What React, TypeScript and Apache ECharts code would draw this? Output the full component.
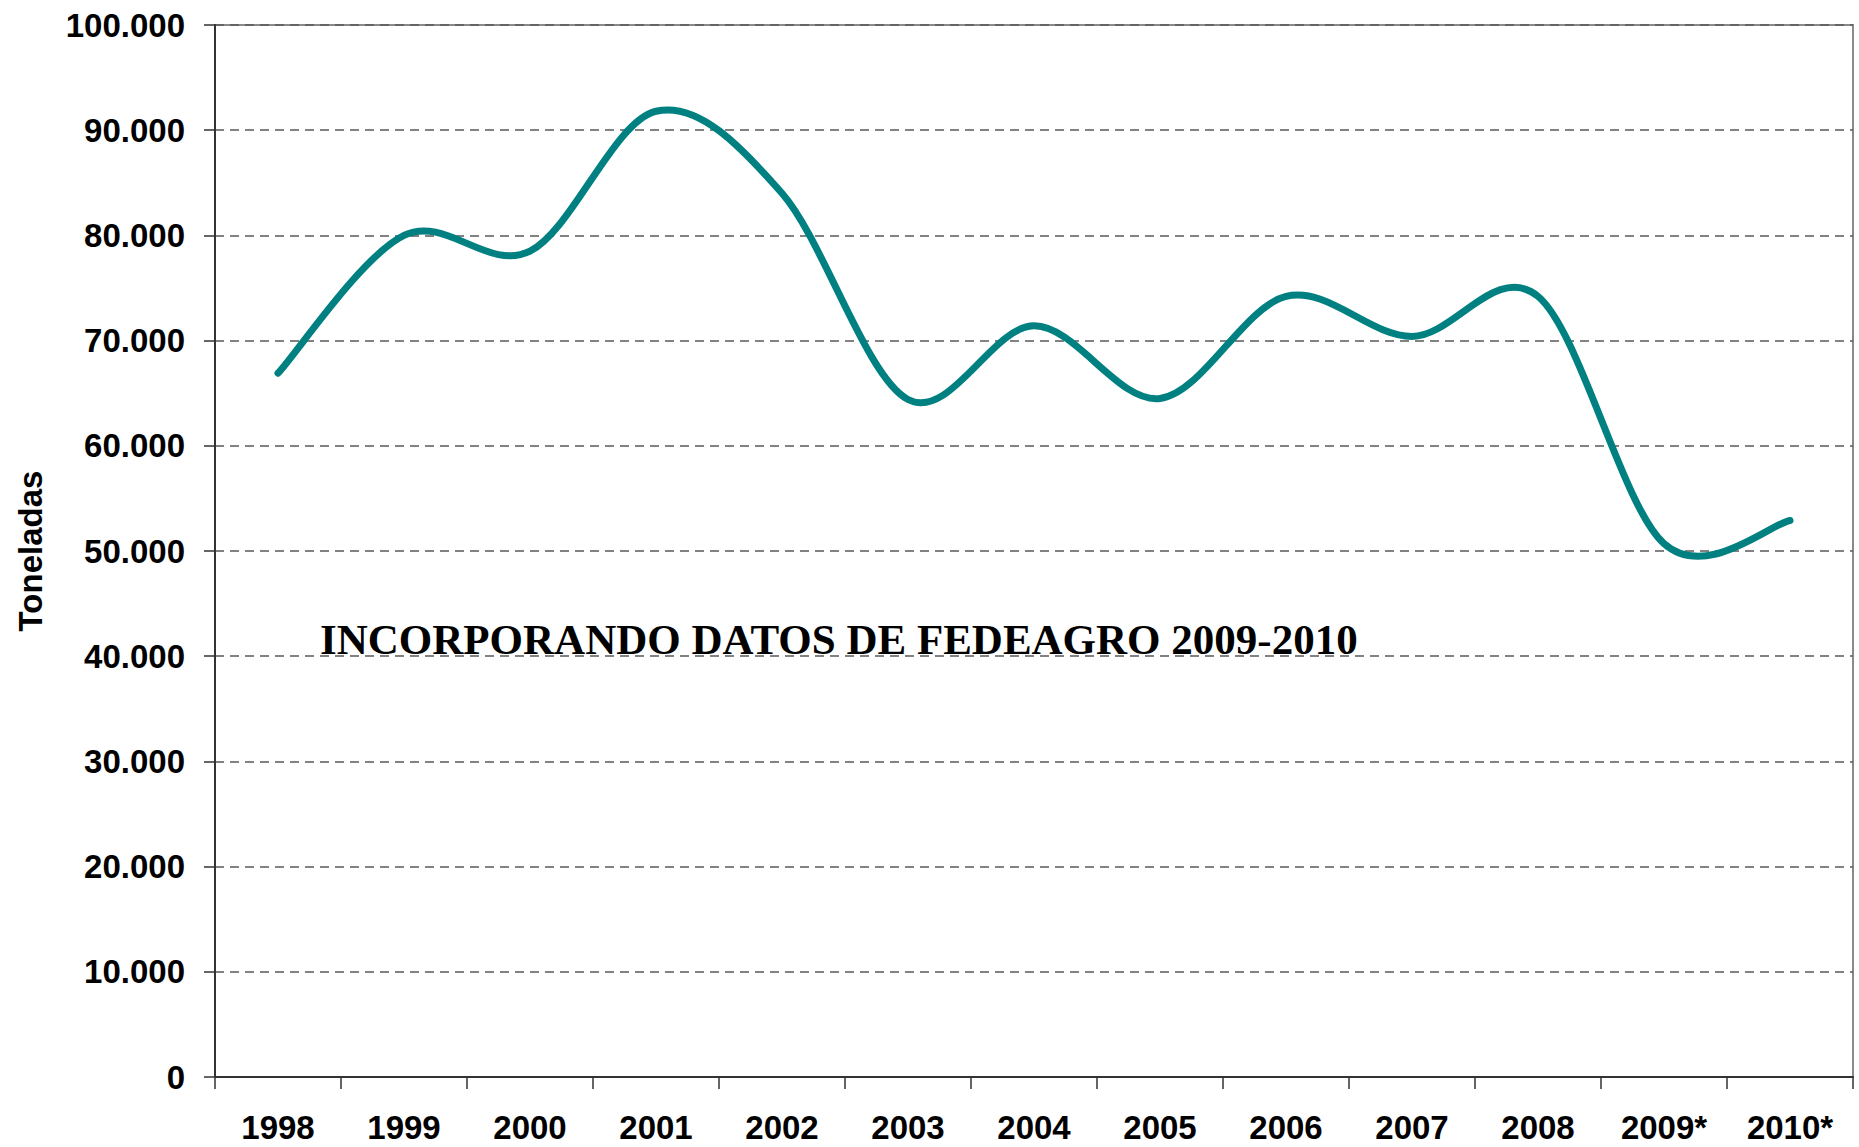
import React, { useEffect, useRef } from "react";
import * as echarts from "echarts";

const categories = ["1998", "1999", "2000", "2001", "2002", "2003", "2004", "2005", "2006", "2007", "2008", "2009*", "2010*"];
const toneladas = [66900, 80000, 78500, 91800, 84000, 64400, 71400, 64500, 74200, 70400, 74200, 50700, 52900];
const yTicks = { min: 0, max: 100000, interval: 10000 };
const yTitle = "Toneladas";
const annotation = "INCORPORANDO DATOS DE FEDEAGRO 2009-2010";

const fmt = (v: number) => String(v).replace(/\B(?=(\d{3})+(?!\d))/g, ".");

// Smooth curve through the data points (Catmull-Rom style, like a spreadsheet "smoothed line"),
// with every point placed through the chart's own axes via api.coord.
function renderSmoothLine(params: any, api: any) {
  if (params.dataIndex !== 0) return null;
  const pts = toneladas.map((v, i) => api.coord([i, v]));
  const n = pts.length;
  let d = `M ${pts[0][0]} ${pts[0][1]}`;
  for (let i = 0; i < n - 1; i++) {
    const p0 = pts[i - 1] || pts[i];
    const p1 = pts[i];
    const p2 = pts[i + 1];
    const p3 = pts[i + 2] || pts[i + 1];
    const c1x = p1[0] + (p2[0] - p0[0]) / 6;
    const c1y = p1[1] + (p2[1] - p0[1]) / 6;
    const c2x = p2[0] - (p3[0] - p1[0]) / 6;
    const c2y = p2[1] - (p3[1] - p1[1]) / 6;
    d += ` C ${c1x} ${c1y} ${c2x} ${c2y} ${p2[0]} ${p2[1]}`;
  }
  return {
    type: "path",
    shape: { pathData: d },
    style: {
      fill: "none",
      stroke: "#008080",
      lineWidth: 7,
      lineCap: "round",
      lineJoin: "round",
    },
    z2: 5,
  };
}

export default function App() {
  const ref = useRef<HTMLDivElement>(null);
  useEffect(() => {
    if (!ref.current) return;
    const chart = echarts.init(ref.current, null, { renderer: "svg" });
    chart.setOption({
      animation: false,
      backgroundColor: "#ffffff",
      grid: {
        left: 215,
        top: 25,
        right: 6,
        bottom: 70,
        show: true,
        borderColor: "#8a8a8a",
        borderWidth: 2,
        containLabel: false,
        outerBoundsMode: "none",
      },
      xAxis: {
        type: "category",
        data: categories,
        boundaryGap: true,
        axisLine: { show: true, lineStyle: { color: "#333333", width: 2 } },
        axisTick: { show: true, interval: 0, length: 12, lineStyle: { color: "#333333", width: 1.5 } },
        axisLabel: {
          interval: 0,
          margin: 34,
          color: "#000000",
          fontFamily: "Liberation Sans",
          fontWeight: "bold",
          fontSize: 33,
        },
        splitLine: { show: false },
      },
      yAxis: {
        type: "value",
        min: yTicks.min,
        max: yTicks.max,
        interval: yTicks.interval,
        name: yTitle,
        nameLocation: "middle",
        nameGap: 168,
        nameRotate: 90,
        nameTextStyle: {
          color: "#000000",
          fontFamily: "Liberation Sans",
          fontWeight: "bold",
          fontSize: 33,
        },
        axisLine: { show: true, lineStyle: { color: "#333333", width: 2 } },
        axisTick: { show: true, inside: false, length: 11, lineStyle: { color: "#333333", width: 1.5 } },
        axisLabel: {
          margin: 30,
          color: "#000000",
          fontFamily: "Liberation Sans",
          fontWeight: "bold",
          fontSize: 33,
          formatter: (v: number) => fmt(v),
        },
        splitLine: {
          show: true,
          lineStyle: { color: "#5a5a5a", width: 1.5, type: [9, 6] },
        },
      },
      series: [
        {
          type: "custom",
          name: yTitle,
          data: toneladas.map((v, i) => [i, v]),
          encode: { x: 0, y: 1 },
          renderItem: renderSmoothLine,
          clip: false,
          z: 3,
        },
      ],
      graphic: [
        {
          type: "text",
          left: 320,
          top: 618,
          z: 10,
          style: {
            text: annotation,
            fill: "#000000",
            font: "bold 43px 'Liberation Serif'",
          },
        },
      ],
    });
    return () => chart.dispose();
  }, []);
  return (
    <div
      ref={ref}
      style={{ position: "fixed", left: 0, top: 0, width: 1859, height: 1147 }}
    />
  );
}
